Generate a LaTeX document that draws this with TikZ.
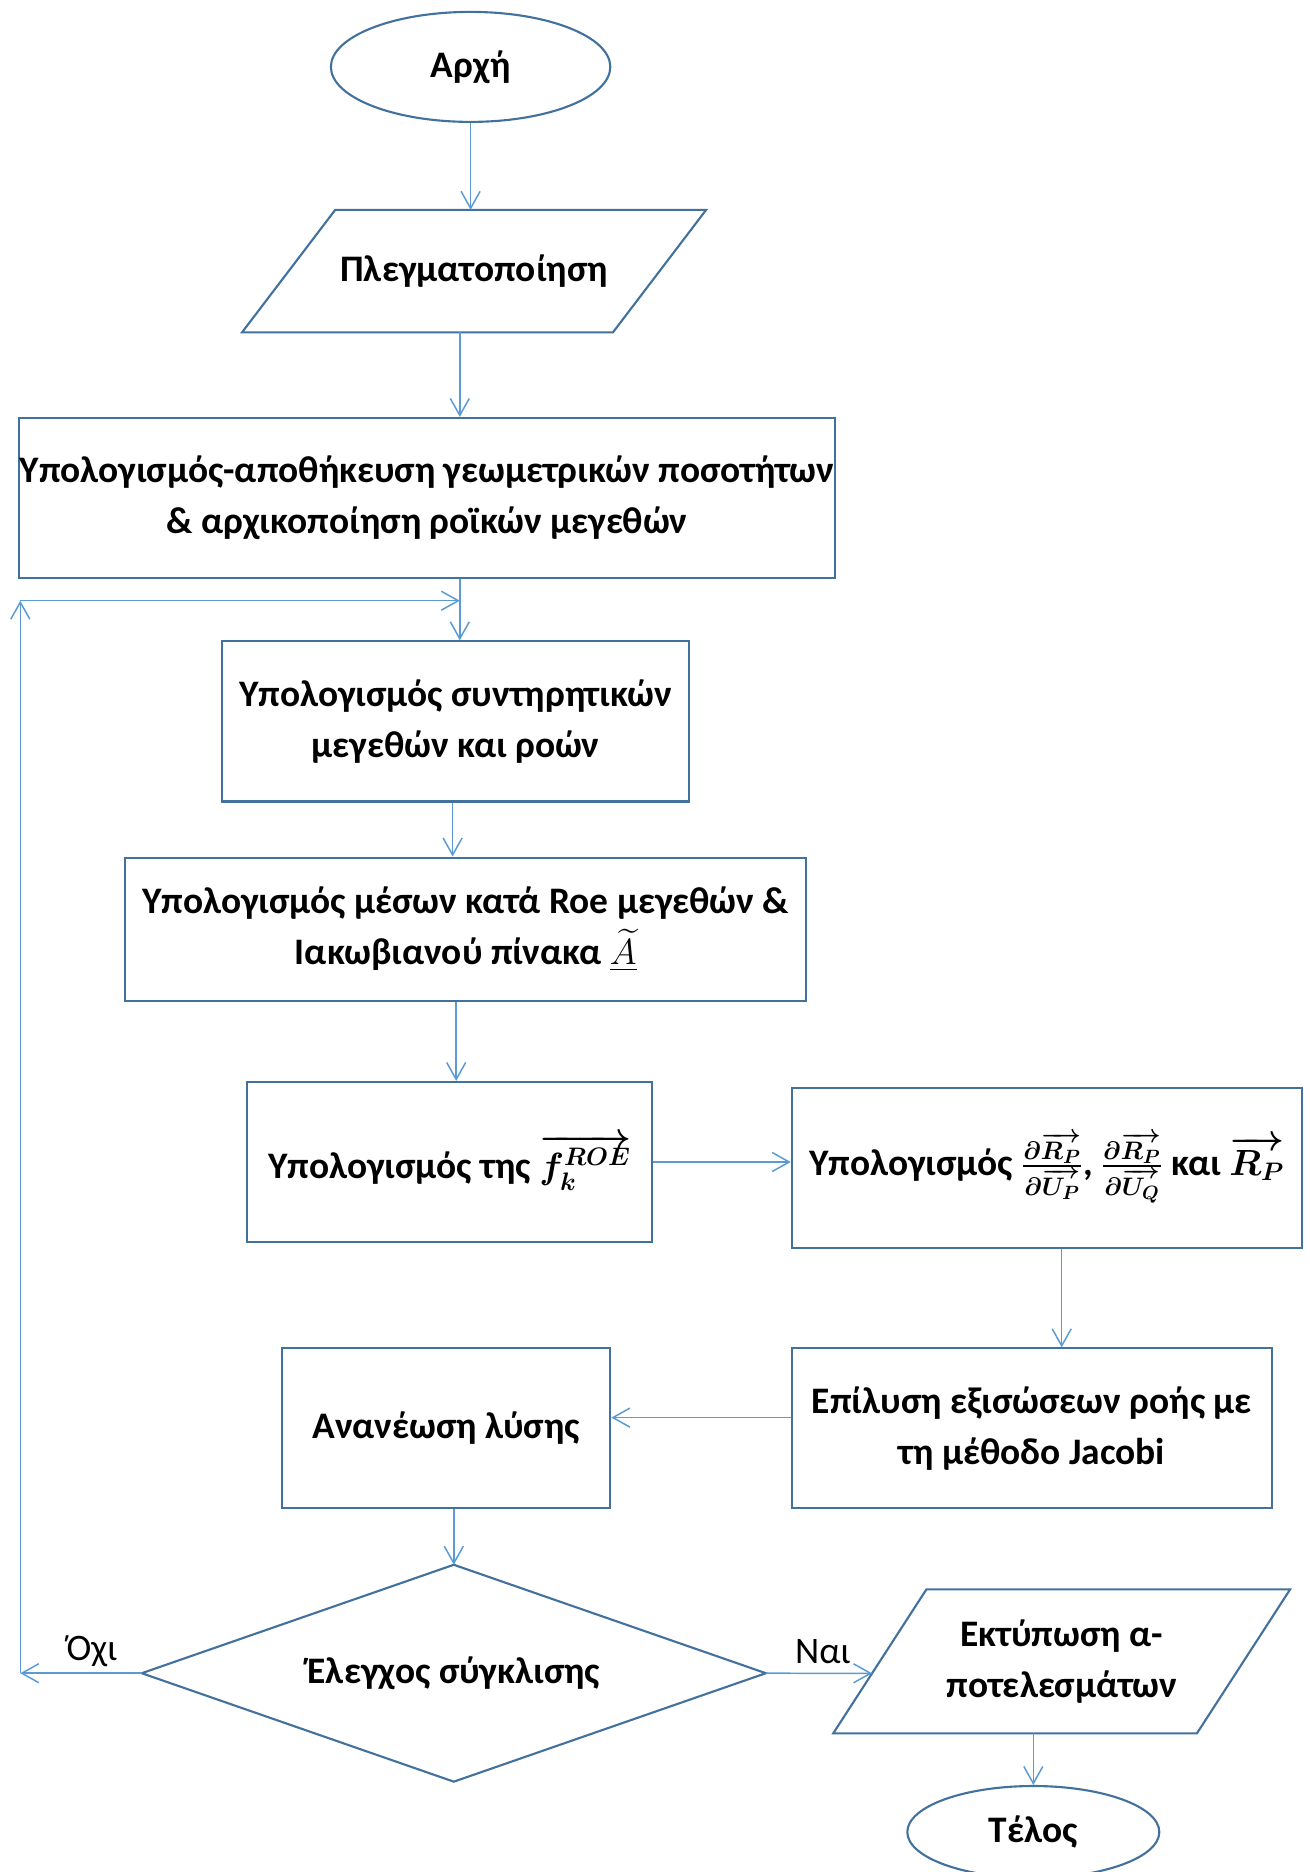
\documentclass[tikz,border=0pt]{standalone}
\usepackage{amsmath}
\usepackage{bm}
\usepackage{fontspec}
\setmainfont{Carlito}
\usetikzlibrary{arrows.meta,calc,shapes.geometric}
\definecolor{shapeblue}{HTML}{41719C}
\definecolor{linkblue}{HTML}{5B9BD5}

\begin{document}
\begin{tikzpicture}[x=0.02cm,y=-0.02cm,
  every node/.style={font=\fontsize{21.3}{29}\selectfont\bfseries, inner sep=0pt, align=center},
  wh/.style 2 args={minimum width=#1*0.02cm, minimum height=#2*0.02cm},
  outline/.style={draw=shapeblue, line width=1.2pt},
  stepbox/.style={outline, rectangle},
  oval/.style={outline, ellipse},
  conn/.style={draw=linkblue, line width=0.85pt, -{Straight Barb[length=0.34cm,width=0.38cm]}},
  lbl/.style={font=\fontsize{21.3}{29}\selectfont}]
\useasboundingbox (0,0) rectangle (1309,1872);

% terminals
\node[oval, wh={279.4}{110}] (start) at (470.6,66.9) {Αρχή};
\node[oval, wh={252}{92}] (stop) at (1033.3,1832) {Τέλος};

% input / output parallelograms (text holders, outlines drawn below)
\node[wh={463.4}{121.8}] (p1) at (474.1,271.1) {Πλεγματοποίηση};
\node[wh={456.2}{143.3}] (p2) at (1061.7,1661.3) {Εκτύπωση α-\\ποτελεσμάτων};
\draw[outline] (p1.south west) -- ($(p1.south east)+(-93.2,0)$) -- (p1.north east) -- ($(p1.north west)+(93.2,0)$) -- cycle;
\draw[outline] (p2.south west) -- ($(p2.south east)+(-93.2,0)$) -- (p2.north east) -- ($(p2.north west)+(93.2,0)$) -- cycle;
\coordinate (p2tl) at ($(p2.north west)+(93.2,0)$);
\coordinate (p2in) at ($(p2.south west)!0.4166!(p2tl)$);

% process steps
\node[stepbox, wh={815.7}{160}] (b1) at (427,498) {Υπολογισμός-αποθήκευση γεωμετρικών ποσοτήτων\\\& αρχικοποίηση ροϊκών μεγεθών};
\node[stepbox, wh={467}{160.1}] (b2) at (455.6,721.4) {Υπολογισμός συντηρητικών\\μεγεθών και ροών};
\node[stepbox, wh={680.8}{143.3}] (b3) at (465.8,929.2) {Υπολογισμός μέσων κατά Roe μεγεθών \&\\Ιακωβιανού πίνακα $\underline{\widetilde{A}}$};
\node[stepbox, wh={404.9}{160}] (b4) at (449.7,1162) {Υπολογισμός της $\bm{\overrightarrow{f_k^{ROE}}}$};
\node[stepbox, wh={510}{160}] (b5) at (1046.8,1168) {Υπολογισμός $\bm{\frac{\partial\overrightarrow{R_P}}{\partial\overrightarrow{U_P}}}$, $\bm{\frac{\partial\overrightarrow{R_P}}{\partial\overrightarrow{U_Q}}}$ και $\bm{\overrightarrow{R_P}}$};
\node[stepbox, wh={480.1}{160}] (b6) at (1031.9,1428.4) {Επίλυση εξισώσεων ροής με\\τη μέθοδο Jacobi};
\node[stepbox, wh={328.4}{160}] (b7) at (446.1,1428.4) {Ανανέωση λύσης};

% decision
\node[wh={623.4}{216.2}] (dec) at (453.8,1673.2) {Έλεγχος σύγκλισης};
\draw[outline] (dec.north) -- (dec.east) -- (dec.south) -- (dec.west) -- cycle;

% connector columns
\coordinate (c12) at (459.8,0);
\coordinate (c24) at (452.6,0);
\coordinate (c35) at (456.2,0);
\coordinate (c79) at (453.8,0);
\coordinate (c57) at (1061.7,0);
\coordinate (r67) at (0,1417.6);
\coordinate (lb) at (20.3,1673.2);
\coordinate (lt) at (20.3,600.7);
\coordinate (lj) at (c12 |- lt);

\draw[conn] (start.south) -- (start.south |- p1.north);
\draw[conn] (c12 |- p1.south) -- (c12 |- b1.north);
\draw[conn] (c12 |- b1.south) -- (c12 |- b2.north);
\draw[conn] (c24 |- b2.south) -- (c24 |- b3.north);
\draw[conn] (c35 |- b3.south) -- (c35 |- b4.north);
\draw[conn] (b4.east) -- (b4.east -| b5.west);
\draw[conn] (c57 |- b5.south) -- (c57 |- b6.north);
\draw[conn] (b6.west |- r67) -- (b7.east |- r67);
\draw[conn] (c79 |- b7.south) -- (dec.north);
\draw[conn] (dec.west) -- (lb);
\draw[conn] (lb) -- (lt);
\draw[conn] (lt) -- (lj);
\draw[conn] (dec.east) -- (p2in);
\draw[conn] (stop.north |- p2.south) -- (stop.north);

% branch labels
\node[lbl] (no) at (92,1651.7) {Όχι};
\node[lbl] (yes) at (822.9,1651.7) {Ναι};
\end{tikzpicture}
\end{document}
